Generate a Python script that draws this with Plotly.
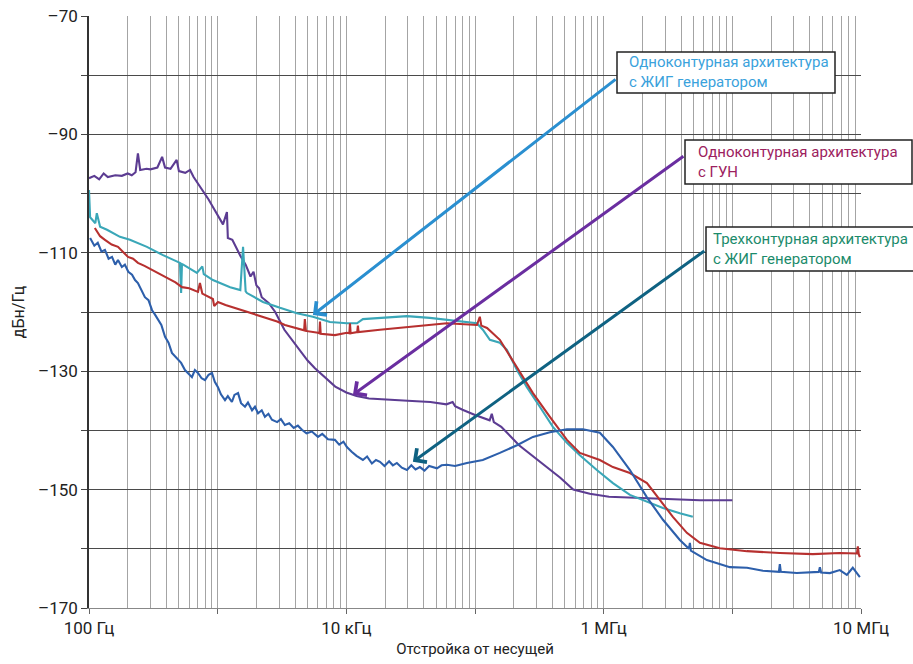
import numpy as np
import plotly.graph_objects as go

FONT = "Roboto, Liberation Sans, Arial, sans-serif"

# ---- data: offset frequency (axis units, Hz) and level (dBc/Hz) ----
purple_f = [100, 110, 120, 130, 140, 160, 180, 200, 215, 230, 240, 250, 280, 300, 340, 370, 390, 430,
            480, 500, 560, 610, 650, 730, 850, 950, 1100, 1180, 1200, 1300, 1400, 1500, 1650, 1800,
            1900, 2000, 2100, 2200, 2500, 2800, 3300, 4000, 4400, 5000, 5700, 7000, 8200, 10000,
            12000, 15000, 20000, 30000, 45000, 60000, 67000, 70000, 80000, 100000, 130000, 135000,
            140000, 160000, 220000, 320000, 380000, 460000, 580000, 780000, 1.1e6, 2.3e6, 5.6e6, 1.0e7]
purple_db = [-97.4, -97.0, -97.6, -96.6, -97.2, -96.9, -97.0, -96.6, -96.9, -96.4, -93.2, -96.0, -95.8,
             -95.9, -95.6, -93.8, -95.6, -95.8, -94.3, -96.2, -96.5, -96.0, -97.2, -98.8, -101.0,
             -102.8, -105.2, -103.1, -107.5, -107.8, -109.3, -110.5, -112.0, -114.0, -113.2, -115.5,
             -116.0, -117.5, -118.5, -120.0, -123.0, -125.5, -126.7, -128.2, -129.5, -131.2, -132.6,
             -133.6, -134.2, -134.6, -134.8, -135.0, -135.2, -135.6, -135.2, -135.9, -136.5, -137.4,
             -138.3, -137.2, -138.6, -139.4, -142.5, -145.3, -146.7, -148.0, -150.0, -150.7, -151.2,
             -151.5, -151.8, -151.8]

red_f = [111, 122, 133, 150, 168, 185, 201, 220, 240, 270, 309, 360, 411, 470, 528, 600, 703, 728, 760,
         918, 940, 1005, 1150, 1360, 1600, 1850, 2100, 2460, 2900, 3330, 4520, 4700, 4760, 4850, 6020,
         6180, 6240, 6320, 8150, 10100, 10550, 10670, 10800, 12150, 12300, 12450, 18250,
         32900, 60500, 103500, 109000, 112000, 124000, 156000, 212000, 282000, 382000, 518000, 653000,
         934000, 1.18e6, 1.6e6, 2.17e6, 2.74e6, 3.45e6, 4.43e6, 5.6e6, 8.0e6, 1.3e7, 2.34e7, 4.22e7,
         6.84e7, 9.3e7, 9.45e7, 9.6e7, 9.8e7]
red_db = [-105.8, -107.2, -107.8, -108.6, -109.0, -110.0, -110.7, -111.0, -111.7, -112.2, -112.9, -113.6,
          -114.3, -115.0, -115.8, -116.0, -116.6, -115.1, -116.9, -117.8, -119.0, -118.3, -118.8,
          -119.3, -119.8, -120.2, -120.6, -121.0, -121.6, -122.2, -123.0, -123.1, -121.2, -123.2,
          -123.5, -123.6, -121.6, -123.7, -123.9, -123.5, -123.6, -121.9, -123.6, -123.4, -122.3,
          -123.4, -123.0, -122.5, -121.9, -122.2, -120.8, -122.3, -122.7, -124.7, -129.3, -133.7,
          -137.7, -141.6, -143.8, -145.0, -146.2, -147.2, -148.9, -151.8, -154.6, -157.3, -159.0,
          -159.9, -160.4, -160.7, -160.9, -160.7, -160.8, -159.6, -160.9, -161.4]

cyan_f = [100, 102, 112, 115, 122, 138, 174, 208, 282, 376, 509, 520, 528, 540, 690, 760, 780, 918,
          1250, 1500, 1575, 1650, 1690, 2250, 3050, 4130, 5500, 7460, 10100, 12100, 13450, 18250,
          29600, 44600, 63900, 103500, 115000, 130500, 156000, 177000, 212000, 253000, 319000,
          403000, 518000, 653000, 885000, 1.18e6, 1.6e6, 2.17e6, 2.89e6, 3.91e6, 4.93e6]
cyan_db = [-99.4, -104.0, -105.0, -103.3, -105.6, -106.1, -107.3, -107.8, -109.0, -110.4, -111.7,
           -116.8, -111.9, -112.0, -113.4, -112.3, -113.6, -114.6, -115.8, -116.3, -109.0, -116.5,
           -116.8, -118.3, -119.3, -120.2, -120.8, -121.7, -121.9, -121.9, -121.2, -121.0, -120.7,
           -121.0, -121.4, -121.9, -123.0, -124.7, -125.2, -126.4, -129.8, -132.7, -136.0, -139.4,
           -142.1, -144.2, -146.7, -148.9, -150.9, -152.1, -153.1, -154.0, -154.6]

blue_f = [102, 110, 117, 125, 133, 142, 151, 160, 168, 180, 190, 202, 216, 228, 240, 256, 272, 290,
          309, 325, 344, 365, 390, 415, 441, 465, 492, 520, 557, 590, 631, 665, 703, 750, 797, 850,
          903, 950, 1005, 1060, 1140, 1200, 1290, 1350, 1440, 1520, 1630, 1720, 1850, 1950, 2060,
          2200, 2330, 2480, 2640, 2900, 3100, 3330, 3600, 3900, 4200, 4520, 4900, 5400, 6020, 6500,
          7200, 8150, 8800, 9500, 10100, 11000, 12000, 13450, 14500, 15800, 17000, 18250, 19800,
          21500, 23000, 24700, 27000, 29600, 32000, 34500, 37300, 40500, 44000, 50600, 55000,
          60500, 70000, 86500, 115000, 156000, 212000, 282000, 382000, 518000, 689000, 934000,
          1.18e6, 1.6e6, 2.17e6, 2.89e6, 3.91e6, 4.6e6, 4.68e6, 4.76e6, 6.34e6, 9.57e6, 1.3e7,
          1.73e7, 2.3e7, 2.34e7, 2.38e7, 3.17e7, 4.22e7, 4.7e7, 4.79e7, 4.9e7, 5.73e7, 6.84e7,
          7.76e7, 8.63e7, 9.8e7]
blue_db = [-107.5, -108.8, -108.3, -109.8, -109.5, -111.0, -110.7, -112.0, -111.2, -112.4, -112.0,
           -113.2, -113.7, -114.6, -115.1, -116.4, -117.5, -118.0, -119.7, -120.4, -121.4, -122.2,
           -124.2, -125.2, -126.9, -127.4, -128.1, -128.6, -129.8, -130.4, -131.0, -129.8, -130.3,
           -131.2, -131.5, -130.6, -130.3, -131.8, -132.7, -133.9, -134.9, -134.2, -135.2, -134.0,
           -133.7, -135.4, -136.0, -135.3, -136.6, -136.0, -137.1, -136.6, -137.7, -137.2, -138.2,
           -138.6, -138.1, -139.1, -138.8, -139.6, -139.2, -139.9, -140.5, -140.2, -141.1, -140.6,
           -141.5, -141.6, -142.4, -141.9, -142.8, -143.6, -144.3, -145.0, -144.4, -145.6, -145.0,
           -145.3, -146.0, -145.2, -145.9, -145.5, -146.3, -146.7, -145.9, -146.6, -146.2, -146.8,
           -146.0, -146.4, -145.9, -145.8, -146.0, -145.5, -145.0, -143.8, -142.5, -141.1, -140.3,
           -139.8, -139.8, -140.4, -142.8, -146.7, -151.3, -155.1, -158.5, -160.0, -159.0, -160.3,
           -161.9, -163.1, -163.2, -163.7, -163.9, -162.6, -163.9, -164.1, -163.9, -163.9, -163.1,
           -164.0, -164.1, -163.6, -164.4, -163.2, -164.8]

# arrows: head (f, dB) and tail (f, dB)
arrow_heads = [(5500, -120.5), (11250, -134.0), (32900, -145.3)]
arrow_tails = [(1.27e6, -80.5), (4.28e6, -93.5), (6.22e6, -109.5)]
arrow_colors = ["#2a8fd0", "#6a2ea0", "#0f6282"]

label_texts = ["Одноконтурная архитектура<br>с ЖИГ генератором",
               "Одноконтурная архитектура<br>с ГУН",
               "Трехконтурная архитектура<br>с ЖИГ генератором"]
label_colors = ["#3aa2dc", "#9c215e", "#1b8b6b"]

y_ticks = list(range(-170, -69, 10))
y_ticktext = [("\u2013" + str(-v)) if (v % 20 == 10) else "" for v in y_ticks]
x_ticks = [1e2, 1e3, 1e4, 1e5, 1e6, 1e7, 1e8]
x_ticktext = ["100 Гц", "", "10 кГц", "", "1 МГц", "", "10 МГц"]

fig = go.Figure()
series = [
    (purple_f, purple_db, "#5c3c92"),
    (cyan_f, cyan_db, "#3aa7b8"),
    (red_f, red_db, "#b7302f"),
    (blue_f, blue_db, "#2d5fab"),
]
for f, d, c in series:
    fig.add_trace(go.Scatter(x=f, y=d, mode="lines", line=dict(color=c, width=2.1),
                             hoverinfo="skip"))

# layout geometry (pixels)
L, R, T, B = 89, 861, 16, 608
W, H = R - L, B - T


def px(xp):
    return (xp - L) / W


def py(yp):
    return (B - yp) / H


minor_vals = [m * 10 ** e for e in range(2, 8) for m in range(2, 10)]

annotations = []
for (hf, hd), (tf, td), c in zip(arrow_heads, arrow_tails, arrow_colors):
    annotations.append(dict(x=np.log10(hf), y=hd, ax=np.log10(tf), ay=td, xref="x", yref="y",
                            axref="x", ayref="y", text="", showarrow=True, arrowhead=4,
                            arrowsize=1.1, arrowwidth=3, arrowcolor=c, standoff=0))

boxes = [(617, 835, 52, 93), (685, 912, 140, 184), (706, 935, 227, 271)]
text_left = [627, 696, 711]
shapes = []
for (x0, x1, y0, y1), tl, txt, c in zip(boxes, text_left, label_texts, label_colors):
    shapes.append(dict(type="rect", xref="paper", yref="paper", x0=px(x0), x1=px(x1),
                       y0=py(y1), y1=py(y0), line=dict(color="#222", width=1.5),
                       fillcolor="white", layer="above"))
    annotations.append(dict(x=px(tl), y=py((y0 + y1) / 2), xref="paper", yref="paper",
                            text=txt, showarrow=False, xanchor="left", yanchor="middle",
                            align="left", font=dict(family=FONT, size=15, color=c)))

fig.update_layout(
    width=913, height=664,
    margin=dict(l=L, r=913 - R, t=T, b=664 - B, autoexpand=False),
    plot_bgcolor="white", paper_bgcolor="white",
    showlegend=False,
    font=dict(family=FONT, size=17, color="#222"),
    annotations=annotations, shapes=shapes,
    xaxis=dict(type="log", range=[2, 8], tickvals=x_ticks, ticktext=x_ticktext,
               ticks="outside", ticklen=5, tickcolor="#666", tickwidth=1.2,
               showgrid=True, gridcolor="#a4a4a4", gridwidth=1.4,
               minor=dict(tickvals=minor_vals, showgrid=True, gridcolor="#a4a4a4",
                          gridwidth=1.4, ticks=""),
               zeroline=False, showline=True, linecolor="#888", linewidth=1,
               automargin=False, tickfont=dict(size=17),
               title=dict(text="Отстройка от несущей", font=dict(size=15), standoff=6)),
    yaxis=dict(range=[-170, -70], tickvals=y_ticks, ticktext=y_ticktext,
               ticks="outside", ticklen=6, tickcolor="#444", tickwidth=1.2,
               showgrid=True, gridcolor="#4a4a4a", gridwidth=1.4,
               zeroline=False, showline=True, linecolor="#333", linewidth=1.5,
               automargin=False, tickfont=dict(size=17),
               title=dict(text="дБн/Гц", font=dict(size=16), standoff=9)),
)

fig.write_html("out.html")
